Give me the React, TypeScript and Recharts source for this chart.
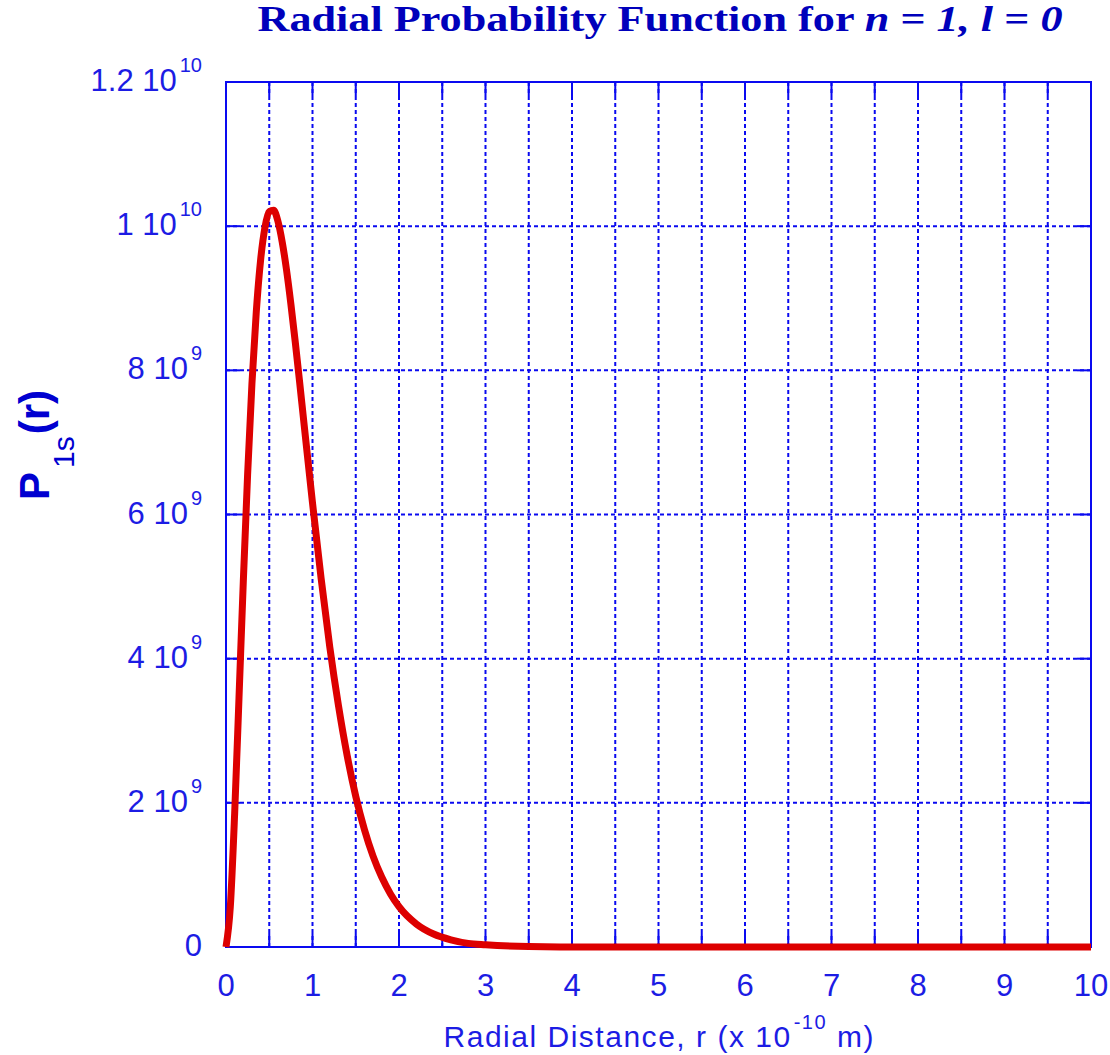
import React from 'react';
import { LineChart, Line, XAxis, YAxis, CartesianGrid, ReferenceArea } from 'recharts';

// radial distance r (x 10^-10 m)
const rValues = [
  0, 0.05, 0.1, 0.15, 0.2, 0.25, 0.3, 0.35, 0.4, 0.45, 0.5, 0.55, 0.6, 0.65, 0.7, 0.75, 0.8, 0.85, 0.9, 0.95, 1.0,
  1.1, 1.2, 1.3, 1.4, 1.5, 1.6, 1.7, 1.8, 1.9, 2.0,
  2.2, 2.4, 2.6, 2.8, 3.0, 3.5, 4, 5, 6, 7, 8, 9, 10,
];
// P_1s(r) in units of 10^9
const pValues = [
  0, 0.56, 1.85, 3.45, 5.07, 6.56, 7.82, 8.81, 9.53, 9.98, 10.2, 10.22, 10.07, 9.78, 9.39, 8.92, 8.4, 7.85, 7.28, 6.72, 6.16,
  5.11, 4.16, 3.35, 2.66, 2.09, 1.63, 1.26, 0.97, 0.74, 0.56,
  0.32, 0.18, 0.1, 0.05, 0.03, 0.006, 0.001, 0, 0, 0, 0, 0, 0,
];

const xTicks = [0, 0.5, 1, 1.5, 2, 2.5, 3, 3.5, 4, 4.5, 5, 5.5, 6, 6.5, 7, 7.5, 8, 8.5, 9, 9.5, 10];
const xTickLabels = ['0', '', '1', '', '2', '', '3', '', '4', '', '5', '', '6', '', '7', '', '8', '', '9', '', '10'];
const yTicks = [0, 2e9, 4e9, 6e9, 8e9, 1e10, 1.2e10];
const yTickMantissa = ['0', '2', '4', '6', '8', '1', '1.2'];
const yTickExponent = ['', '9', '9', '9', '9', '10', '10'];

const data = rValues.map((r, i) => ({ r, p: pValues[i] * 1e9 }));

const LINE_BLUE = '#0a0af0';
const TEXT_BLUE = '#1c1ce4';
const SANS = '"Liberation Sans", Arial, sans-serif';

const XTick = (props: any) => {
  const { x, y, payload } = props;
  const i = xTicks.indexOf(payload.value);
  const label = i >= 0 ? xTickLabels[i] : '';
  if (!label) return <g />;
  return (
    <text x={x} y={y + 49} textAnchor="middle" fill={TEXT_BLUE} fontSize={31} fontFamily={SANS}>
      {label}
    </text>
  );
};

const YTick = (props: any) => {
  const { x, y, payload } = props;
  const i = yTicks.indexOf(payload.value);
  if (i < 0) return <g />;
  const m = yTickMantissa[i];
  const e = yTickExponent[i];
  return (
    <text x={x} y={y + 9} textAnchor="end" fill={TEXT_BLUE} fontSize={31} fontFamily={SANS}>
      {e ? (
        <>
          <tspan>{m + ' 10'}</tspan>
          <tspan dx={3} dy={-19} fontSize={20}>{e}</tspan>
        </>
      ) : (
        m
      )}
    </text>
  );
};

const XTitle = (props: any) => {
  const vb = props.viewBox || { x: 226, y: 947, width: 865, height: 108 };
  const cx = vb.x + vb.width / 2;
  const by = vb.y + 100;
  return (
    <text x={cx} y={by} textAnchor="middle" fill={TEXT_BLUE} fontSize={30} fontFamily={SANS} textLength={430} lengthAdjust="spacing">
      <tspan>Radial Distance, r (x 10</tspan>
      <tspan dx={2} dy={-18} fontSize={20}>-10</tspan>
      <tspan dy={18}> m)</tspan>
    </text>
  );
};

const YTitle = (props: any) => {
  const vb = props.viewBox || { x: 0, y: 82, width: 226, height: 865 };
  const bx = vb.x + 49;
  const by = vb.y + 418;
  return (
    <text x={bx} y={by} transform={`rotate(-90 ${bx} ${by})`} textAnchor="start" fill="#0000d0" fontFamily={SANS}>
      <tspan fontSize={42} fontWeight="bold">P</tspan>
      <tspan fontSize={30} dx={4} dy={25}>1s</tspan>
      <tspan fontSize={42} fontWeight="bold" dx={2} dy={-25}>(r)</tspan>
    </text>
  );
};

const makeGridLine = (count: number) => (props: any) => {
  const { x1, y1, x2, y2, index } = props;
  const horizontal = y1 === y2;
  const stub = 14;
  const key = props.key ?? `g-${count}-${index}-${x1}-${y1}`;
  return (
    <g key={key}>
      <line x1={x1} y1={y1} x2={x2} y2={y2} stroke={LINE_BLUE} strokeWidth={2} strokeDasharray="4 3" />
      {horizontal ? (
        <>
          <line x1={x1} y1={y1} x2={x1 + stub} y2={y1} stroke={LINE_BLUE} strokeWidth={2} />
          <line x1={x2 - stub} y1={y1} x2={x2} y2={y1} stroke={LINE_BLUE} strokeWidth={2} />
        </>
      ) : (
        <>
          <line x1={x1} y1={Math.min(y1, y2)} x2={x1} y2={Math.min(y1, y2) + stub} stroke={LINE_BLUE} strokeWidth={2} />
          <line x1={x1} y1={Math.max(y1, y2) - stub} x2={x1} y2={Math.max(y1, y2)} stroke={LINE_BLUE} strokeWidth={2} />
        </>
      )}
    </g>
  );
};

export default function App() {
  return (
    <div style={{ position: 'absolute', left: 0, top: 0, width: 1110, height: 1055 }}>
      <LineChart width={1110} height={1055} data={data} margin={{ top: 82, right: 19, bottom: 0, left: 0 }}>
        <CartesianGrid
          horizontal={makeGridLine(yTicks.length)}
          vertical={makeGridLine(xTicks.length)}
        />
        <XAxis
          dataKey="r"
          type="number"
          domain={[0, 10]}
          ticks={xTicks}
          interval={0}
          height={108}
          tickSize={0}
          tickMargin={0}
          tickLine={false}
          axisLine={false}
          tick={<XTick />}
          label={{ content: <XTitle /> } as any}
        />
        <YAxis
          type="number"
          domain={[0, 1.2e10]}
          ticks={yTicks}
          interval={0}
          width={226}
          tickSize={0}
          tickMargin={24}
          tickLine={false}
          axisLine={false}
          tick={<YTick />}
          label={{ content: <YTitle /> } as any}
        />
        <ReferenceArea x1={0} x2={10} y1={0} y2={1.2e10} fill="none" stroke={LINE_BLUE} strokeWidth={2} fillOpacity={0} ifOverflow="visible" />
        <Line
          type="monotone"
          dataKey="p"
          stroke="#dd0000"
          strokeWidth={7}
          dot={false}
          activeDot={false}
          isAnimationActive={false}
        />
      </LineChart>
      <svg width={1110} height={60} style={{ position: 'absolute', left: 0, top: 0, pointerEvents: 'none' }}>
        <text
          x={660}
          y={31}
          textAnchor="middle"
          fill="#0000bb"
          fontSize={35}
          fontWeight="bold"
          fontFamily='"Liberation Serif", "Times New Roman", serif'
          textLength={805}
          lengthAdjust="spacingAndGlyphs"
        >
          <tspan>Radial Probability Function for </tspan>
          <tspan fontStyle="italic">n</tspan>
          <tspan> = </tspan>
          <tspan fontStyle="italic">1, l</tspan>
          <tspan> = </tspan>
          <tspan fontStyle="italic">0</tspan>
        </text>
      </svg>
    </div>
  );
}
